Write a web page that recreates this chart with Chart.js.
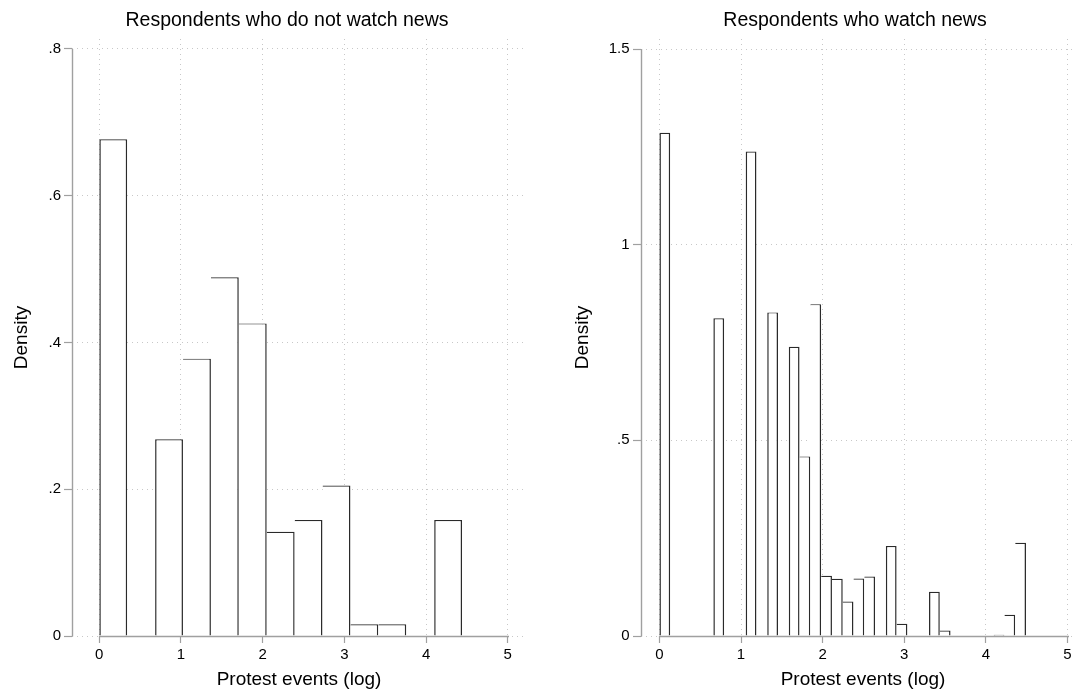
<!DOCTYPE html>
<html>
<head>
<meta charset="utf-8">
<script src="https://cdn.jsdelivr.net/npm/chart.js@4/dist/chart.umd.min.js"></script>
<style>
html,body{margin:0;padding:0;background:#fff;}
#wrap{position:relative;width:1073px;height:692px;overflow:hidden;background:#fff;}
#c1{position:absolute;left:0;top:0;}
#c2{position:absolute;left:550px;top:0;}
</style>
</head>
<body>
<div id="wrap">
  <canvas id="c1" width="526" height="692"></canvas>
  <canvas id="c2" width="535" height="692"></canvas>
</div>
<script>
// ---- data ----
const xTicks = [0, 1, 2, 3, 4, 5];
const leftYTicks = [0, 0.2, 0.4, 0.6, 0.8];
const rightYTicks = [0, 0.5, 1, 1.5];

const leftTitle = 'Respondents who do not watch news';
const rightTitle = 'Respondents who watch news';
const xAxisTitle = 'Protest events (log)';
const yAxisTitle = 'Density';

const leftBinWidth = 0.3416;
const leftBinStart = [0, 0.683, 1.025, 1.366, 1.708, 2.050, 2.391, 2.733, 3.074, 3.416, 4.099];
const leftDensity  = [0.677, 0.268, 0.378, 0.489, 0.426, 0.142, 0.158, 0.205, 0.016, 0.016, 0.158];

const rightBinWidth = 0.1321;
const rightBinStart = [0, 0.661, 1.057, 1.321, 1.585, 1.717, 1.849, 1.982, 2.114, 2.246, 2.378, 2.510, 2.774, 2.906, 3.303, 3.435, 4.095, 4.227, 4.359];
const rightDensity  = [1.286, 0.812, 1.238, 0.827, 0.739, 0.459, 0.848, 0.154, 0.146, 0.088, 0.147, 0.152, 0.230, 0.031, 0.113, 0.014, 0.003, 0.054, 0.238];

// ---- rendering ----
Chart.defaults.font.family = "'Liberation Sans', Arial, Helvetica, sans-serif";
Chart.defaults.color = '#000';

const AXIS_COLOR = '#a0a0a0';
const GRID_COLOR = '#c8c8c8';
const BAR_BORDER = '#2a2a2a';

function fmtTick(v) {
  if (v === 0) return '0';
  const s = String(v);
  return s.startsWith('0.') ? s.slice(1) : s;
}

// shifts the plot title horizontally after layout
const titleShift = {
  id: 'titleShift',
  afterLayout(chart, args, opts) {
    const t = chart.titleBlock;
    if (t && opts && opts.dx) { t.left += opts.dx; t.right += opts.dx; }
  }
};

// Stata-style axis lines spanning only the first..last tick
const stataAxes = {
  id: 'stataAxes',
  afterDraw(chart) {
    const ctx = chart.ctx;
    const x = chart.scales.x, y = chart.scales.y, area = chart.chartArea;
    const yt = y.ticks, xt = x.ticks;
    const yBottom = Math.round(y.getPixelForValue(yt[0].value)) + 0.5;
    const yTop = Math.round(y.getPixelForValue(yt[yt.length - 1].value)) + 0.5;
    const ax = Math.round(area.left) + 0.5;
    const xLeft = Math.round(x.getPixelForValue(xt[0].value));
    const xRight = Math.round(x.getPixelForValue(xt[xt.length - 1].value)) + 1;
    ctx.save();
    ctx.setLineDash([]);
    ctx.strokeStyle = AXIS_COLOR;
    ctx.lineWidth = 1.4;
    ctx.beginPath();
    ctx.moveTo(ax, yTop - 0.5);
    ctx.lineTo(ax, yBottom);
    ctx.stroke();
    ctx.beginPath();
    ctx.moveTo(xLeft, yBottom);
    ctx.lineTo(xRight, yBottom);
    ctx.stroke();
    ctx.restore();
  }
};

function makeHist(id, cfg) {
  const w = cfg.binWidth;
  const starts = cfg.binStart;
  const data = starts.map((s, i) => ({x: s + w / 2, y: cfg.density[i]}));
  return new Chart(document.getElementById(id), {
    type: 'bar',
    data: {
      datasets: [{
        data: data,
        backgroundColor: '#ffffff',
        borderColor: BAR_BORDER,
        borderSkipped: 'start',
        inflateAmount: 0,
        barPercentage: 1,
        categoryPercentage: 1,
        borderWidth: (c) => {
          const i = c.dataIndex;
          const adj = i > 0 && (starts[i] - starts[i - 1]) < 1.5 * w;
          return {top: 1.2, right: 1.5, bottom: 0, left: adj ? 0 : 1.5};
        }
      }]
    },
    plugins: [titleShift, stataAxes],
    options: {
      responsive: false,
      animation: false,
      events: [],
      layout: {padding: 0},
      plugins: {
        legend: {display: false},
        tooltip: {enabled: false},
        title: {
          display: true,
          text: cfg.title,
          fullSize: false,
          color: '#000',
          font: {size: 19.5, weight: 'normal'},
          padding: {top: 9.3, bottom: 6.3}
        },
        titleShift: {dx: cfg.titleDx}
      },
      scales: {
        x: {
          type: 'linear',
          min: cfg.xMin,
          max: cfg.xMax,
          offset: false,
          afterBuildTicks: (s) => { s.ticks = xTicks.map(v => ({value: v})); },
          afterFit: (s) => { s.height = 56; },
          ticks: {callback: (v) => fmtTick(v), font: {size: 15}, padding: 3, maxRotation: 0, autoSkip: false, color: '#000'},
          grid: {offset: false, color: GRID_COLOR, lineWidth: 1, tickLength: 7, tickColor: AXIS_COLOR, tickWidth: 1.2, tickBorderDash: []},
          border: {display: false, dash: [1, 4]},
          title: {display: true, text: xAxisTitle, font: {size: 19}, color: '#000', padding: {top: 0, bottom: 0.6}}
        },
        y: {
          type: 'linear',
          min: 0,
          max: cfg.yMax,
          afterBuildTicks: (s) => { s.ticks = cfg.yTicks.map(v => ({value: v})); },
          afterFit: (s) => { s.width = cfg.yAxisWidth; },
          ticks: {callback: (v) => fmtTick(v), font: {size: 15}, padding: cfg.yTickPad, autoSkip: false, color: '#000'},
          grid: {color: GRID_COLOR, lineWidth: 1, tickLength: 8, tickColor: AXIS_COLOR, tickWidth: 1.2, tickBorderDash: []},
          border: {display: false, dash: [1, 4]},
          title: {display: true, text: yAxisTitle, font: {size: 19}, color: '#000', padding: {top: cfg.yTitlePad, bottom: 0}}
        }
      }
    }
  });
}

makeHist('c1', {
  title: leftTitle, binWidth: leftBinWidth, binStart: leftBinStart, density: leftDensity,
  yTicks: leftYTicks, xMin: -0.334, xMax: 5.223, yMax: 0.8136,
  yAxisWidth: 72, yTickPad: 3, yTitlePad: 10.1, titleDx: -12
});

makeHist('c2', {
  title: rightTitle, binWidth: rightBinWidth, binStart: rightBinStart, density: rightDensity,
  yTicks: rightYTicks, xMin: -0.2254, xMax: 5.214, yMax: 1.5256,
  yAxisWidth: 91, yTickPad: 3.5, yTitlePad: 21.6, titleDx: -8
});
</script>
</body>
</html>
